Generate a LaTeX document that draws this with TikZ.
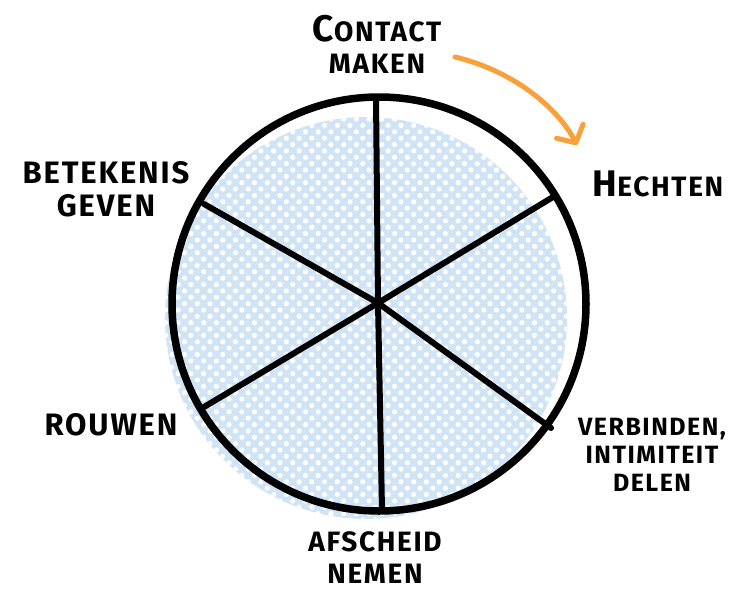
\documentclass[tikz,border=0pt]{standalone}
\usepackage{fontspec}
\newfontfamily\hand{Fira Sans}[LetterSpace=6]
\usetikzlibrary{patterns.meta,arrows.meta}
\definecolor{wheelblue}{RGB}{208,228,245}
\definecolor{arroworange}{RGB}{248,160,58}
\tikzset{
  lbl/.style={font=\hand\bfseries\fontsize{31}{33}\selectfont, align=center, inner sep=0pt, text=black},
  smalllbl/.style={lbl, font=\hand\bfseries\fontsize{25}{28}\selectfont},
  midlbl/.style={lbl, font=\hand\bfseries\fontsize{28}{32}\selectfont},
  rim/.style={line width=7.5pt, draw=black},
  spoke/.style={line width=6pt, draw=black, line cap=round},
  flow/.style={line width=5pt, draw=arroworange, line cap=round, line join=round,
    -{Straight Barb[length=13pt,width=30pt,line cap=round,line join=round]}}
}
\newcommand{\initcap}[1]{{\fontsize{37}{37}\selectfont #1}}
\begin{document}
\begin{tikzpicture}[x=1pt,y=-1pt]
\useasboundingbox (0,0) rectangle (731,590);
% blue dotted background disc
\fill[wheelblue] (366,318) circle[radius=201];
\fill[pattern={Dots[distance=9pt,radius=2.6pt,angle=45]}, pattern color=white] (366,318) circle[radius=201];
% centre and rim points
\coordinate (c) at (378,303);
\coordinate (ptop) at (376,97);
\coordinate (pbot) at (382,510);
\coordinate (pur) at (553,197);
\coordinate (plr) at (551,428);
\coordinate (pll) at (204,407);
\coordinate (pul) at (204,204);
% rim
\draw[rim] (379,304) circle[radius=207];
% spokes
\draw[spoke] (c) -- (ptop);
\draw[spoke] (c) -- (pbot);
\draw[spoke] (c) -- (pur);
\draw[spoke] (c) -- (plr);
\draw[spoke] (c) -- (pll);
\draw[spoke] (c) -- (pul);
% labels
\node[midlbl] (contact) at (377,44) {\initcap{C}ONTACT\\MAKEN};
\node[midlbl] (hechten) at (658,184) {\initcap{H}ECHTEN};
\node[smalllbl] (verbinden) at (652,455) {VERBINDEN,\\INTIMITEIT\\DELEN};
\node[midlbl] (afscheid) at (375,558) {AFSCHEID\\NEMEN};
\node[lbl] (rouwen) at (111,425) {ROUWEN};
\node[lbl] (betekenis) at (106,189) {BETEKENIS\\GEVEN};
% orange arrow
\coordinate (as) at (455,57);
\coordinate (ae) at (577,145);
\draw[flow] (as) .. controls (510,70) and (556,105) .. (ae);
\end{tikzpicture}
\end{document}
